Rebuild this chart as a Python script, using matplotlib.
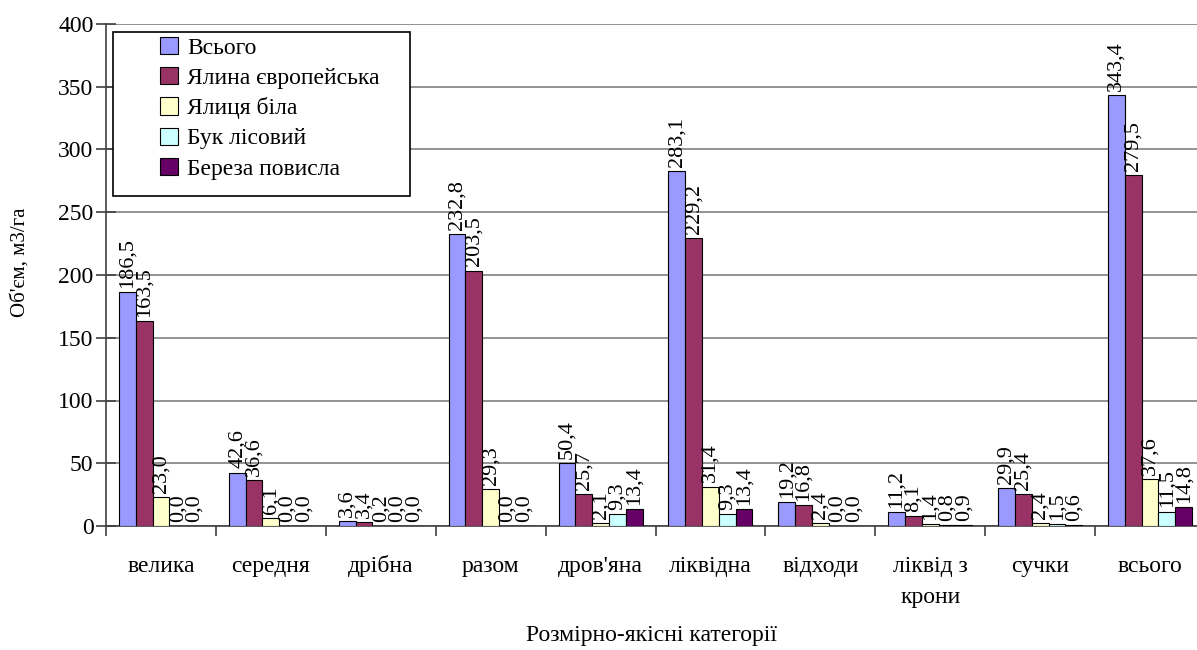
import matplotlib.pyplot as plt
import matplotlib.patches as patches
import matplotlib.transforms as mtransforms
import numpy as np

plt.rcParams['font.family'] = ['Liberation Serif', 'DejaVu Serif']

categories = ['велика', 'середня', 'дрібна', 'разом', "дров'яна", 'ліквідна',
              'відходи', 'ліквід з\nкрони', 'сучки', 'всього']
series_names = ['Всього', 'Ялина європейська', 'Ялиця біла', 'Бук лісовий', 'Береза повисла']
total = [186.5, 42.6, 3.6, 232.8, 50.4, 283.1, 19.2, 11.2, 29.9, 343.4]
spruce = [163.5, 36.6, 3.4, 203.5, 25.7, 229.2, 16.8, 8.1, 25.4, 279.5]
fir = [23.0, 6.1, 0.2, 29.3, 2.1, 31.4, 2.4, 1.4, 2.4, 37.6]
beech = [0.0, 0.0, 0.0, 0.0, 9.3, 9.3, 0.0, 0.8, 1.5, 11.5]
birch = [0.0, 0.0, 0.0, 0.0, 13.4, 13.4, 0.0, 0.9, 0.6, 14.8]
colors = ['#9999FF', '#993366', '#FFFFCC', '#CCFFFF', '#660066']

W, H = 1197, 650
fig = plt.figure(figsize=(W / 100, H / 100), dpi=100)
ax = fig.add_axes([106 / W, 1 - 526 / H, (1205 - 106) / W, (526 - 24) / H])

x = np.arange(len(categories))
w = 0.153
for j, vals in enumerate([total, spruce, fir, beech, birch]):
    pos = x + (j - 2) * w
    ax.bar(pos, vals, width=w, color=colors[j], edgecolor='black', linewidth=0.8,
           label=series_names[j], zorder=3)
    for px, v in zip(pos, vals):
        ax.annotate(f'{v:.1f}'.replace('.', ','), (px, v), xytext=(0, 3),
                    textcoords='offset points', rotation=90, ha='center', va='bottom',
                    fontsize=16, zorder=4)

ax.set_xlim(-0.5, len(categories) - 0.5)
ax.set_ylim(0, 400)
ax.set_yticks(np.arange(0, 401, 50))
ax.yaxis.grid(True, color='#808080', linewidth=1.2, zorder=0)
ax.set_axisbelow(True)
for s in ['top', 'right']:
    ax.spines[s].set_visible(False)
ax.spines['left'].set_color('#404040')
ax.spines['bottom'].set_color('#404040')
ax.spines['left'].set_linewidth(1.2)
ax.spines['bottom'].set_linewidth(1.2)
ax.tick_params(axis='y', direction='inout', length=14, width=1.2, color='#404040',
               labelsize=17, pad=2)

# boundary ticks between categories
ax.set_xticks(np.arange(-0.5, len(categories), 1.0))
ax.set_xticklabels([])
ax.tick_params(axis='x', direction='out', length=7, width=1.2, color='#404040')

# category names, one line at a time so baselines line up
trans = mtransforms.blended_transform_factory(ax.transData, fig.transFigure)
for i, name in enumerate(categories):
    for k, line in enumerate(name.split('\n')):
        ax.text(i, 1 - (572 + 31 * k) / H, line, transform=trans, ha='center',
                va='baseline', fontsize=17)

fig.text(20 / W, 1 - 262 / H, "Об'єм, м3/га", rotation=90, ha='center', va='center',
         fontsize=15)
fig.text(652 / W, 1 - 635 / H, 'Розмірно-якісні категорії', ha='center', va='center',
         fontsize=17)

# legend with a separate box
fig.patches.append(patches.Rectangle((113 / W, 1 - 196 / H), (410 - 113) / W, (196 - 32) / H,
                                     transform=fig.transFigure, fill=True, facecolor='white',
                                     edgecolor='black', linewidth=1.2, zorder=5))
leg = fig.legend(loc='upper left', bbox_to_anchor=(160 / W, 1 - 37 / H), frameon=False,
                 fontsize=17, handlelength=0.75, handleheight=0.75, handletextpad=0.4,
                 labelspacing=0.35, borderaxespad=0, borderpad=0)
leg.set_zorder(6)

fig.savefig('out.png', dpi=100)
